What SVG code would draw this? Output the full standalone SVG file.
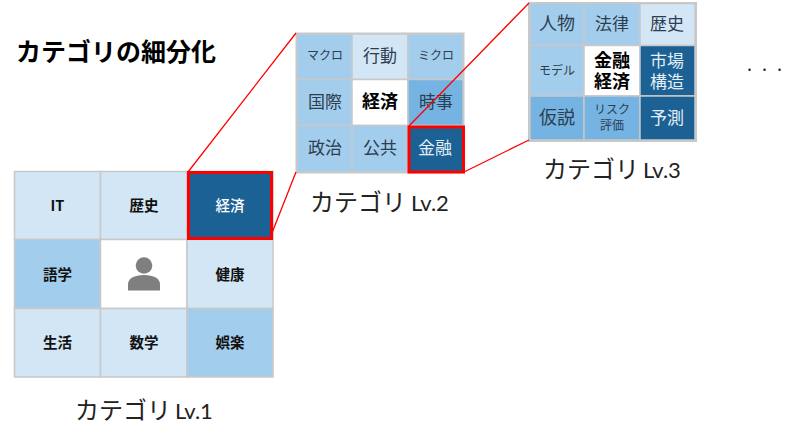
<svg xmlns="http://www.w3.org/2000/svg" width="800" height="441" viewBox="0 0 800 441">
<style>
text{font-family:"Noto Sans CJK JP","Noto Sans",sans-serif;text-anchor:middle;dominant-baseline:central}
.a{fill:#d2e6f5}.b{fill:#a3cdec}.c{fill:#74b3e2}.d{fill:#1c6194}.w{fill:#fff}
rect{stroke:#c8c8c8;stroke-width:1.5}
.f{fill:none;stroke:#c8c8c8;stroke-width:3}
.r{fill:none;stroke:#f00;stroke-width:3}
.l{stroke:#f00;stroke-width:1.3;fill:none}
.t1{font-size:14.500px;font-weight:700;fill:#111}.t1w{font-size:14.500px;font-weight:500;fill:#fff}
.t2{font-size:17px;fill:#2c3e50}.t3{font-size:18px;fill:#2c3e50}.t2s{font-size:12px;fill:#2c3e50}
.tw{font-size:17px;fill:#e4eef6}.tb{font-size:18px;font-weight:700;fill:#000}
.cap{font-size:24px;fill:#222}.lv{font-family:Lato,"Open Sans",sans-serif;font-size:22px;fill:#222;text-anchor:start}
</style>
<text x="16" y="50" style="text-anchor:start;font-size:25px;font-weight:700;fill:#000">カテゴリの細分化</text>
<g id="level1">
<g id="n-it"><rect class="a" x="14.500" y="171.500" width="86" height="68"/><text class="t1" x="57.500" y="204">IT</text></g>
<g id="n-history"><rect class="a" x="100.500" y="171.500" width="86.500" height="68"/><text class="t1" x="144" y="204">歴史</text></g>
<g id="n-keizai"><rect class="d" x="187" y="171.500" width="86" height="68"/><text class="t1w" x="230" y="204">経済</text></g>
<g id="n-lang"><rect class="b" x="14.500" y="239.500" width="86" height="69"/><text class="t1" x="57.500" y="273">語学</text></g>
<g id="n-user"><rect class="w" x="100.500" y="239.500" width="86.500" height="69"/><circle cx="144" cy="265.500" r="8.300" fill="#7f7f7f"/><path d="M128 290.500v-6c0-6 6-9.500 16-9.500s16 3.500 16 9.500v6z" fill="#7f7f7f"/></g>
<g id="n-health"><rect class="a" x="187" y="239.500" width="86" height="69"/><text class="t1" x="230" y="273">健康</text></g>
<g id="n-life"><rect class="a" x="14.500" y="308.500" width="86" height="68.500"/><text class="t1" x="57.500" y="341.500">生活</text></g>
<g id="n-math"><rect class="a" x="100.500" y="308.500" width="86.500" height="68.500"/><text class="t1" x="144" y="341.500">数学</text></g>
<g id="n-ent"><rect class="b" x="187" y="308.500" width="86" height="68.500"/><text class="t1" x="230" y="341.500">娯楽</text></g>
<rect class="r" x="188.500" y="172.500" width="83" height="66"/>
</g>
<text class="cap" x="123" y="408">カテゴリ</text><text class="lv" x="175" y="410">Lv.1</text>
<g id="level2">
<rect class="f" x="297" y="34" width="166" height="138"/>
<g id="m-macro"><rect class="b" x="297" y="34" width="55" height="45.500"/><text class="t2s" x="325" y="54">マクロ</text></g>
<g id="m-act"><rect class="a" x="352" y="34" width="56" height="45.500"/><text class="t2" x="380" y="54">行動</text></g>
<g id="m-micro"><rect class="b" x="408" y="34" width="55" height="45.500"/><text class="t2s" x="436" y="54">ミクロ</text></g>
<g id="m-intl"><rect class="b" x="297" y="79.500" width="55" height="46"/><text class="t2" x="325" y="100">国際</text></g>
<g id="m-keizai"><rect class="w" x="352" y="79.500" width="56" height="46"/><text class="tb" x="380" y="100">経済</text></g>
<g id="m-news"><rect class="c" x="408" y="79.500" width="55" height="46"/><text class="t2" x="436" y="100">時事</text></g>
<g id="m-pol"><rect class="b" x="297" y="125.500" width="55" height="46.500"/><text class="t2" x="325" y="146">政治</text></g>
<g id="m-pub"><rect class="b" x="352" y="125.500" width="56" height="46.500"/><text class="t2" x="380" y="146">公共</text></g>
<g id="m-fin"><rect class="d" x="408" y="125.500" width="55" height="46.500"/><text class="tw" x="435" y="146">金融</text></g>
<rect class="r" x="409" y="127" width="54.500" height="45"/>
</g>
<text class="cap" x="358" y="200">カテゴリ</text><text class="lv" x="411" y="202">Lv.2</text>
<g id="level3">
<rect class="f" x="529.500" y="3.500" width="166" height="137"/>
<g id="s-person"><rect class="b" x="530" y="3.500" width="54" height="42"/><text class="t3" x="557" y="22">人物</text></g>
<g id="s-law"><rect class="b" x="584" y="3.500" width="56" height="42"/><text class="t2" x="612" y="22">法律</text></g>
<g id="s-hist"><rect class="a" x="640" y="3.500" width="55" height="42"/><text class="t2" x="667" y="22">歴史</text></g>
<g id="s-model"><rect class="b" x="530" y="45.500" width="54" height="50.500"/><text class="t2s" x="557" y="69">モデル</text></g>
<g id="s-fin"><rect class="w" x="584" y="45.500" width="56" height="50.500"/><text class="tb" y="59"><tspan x="612">金融</tspan><tspan x="612" dy="21">経済</tspan></text></g>
<g id="s-market"><rect class="d" x="640" y="45.500" width="55" height="50.500"/><text class="tw" y="59"><tspan x="667">市場</tspan><tspan x="667" dy="21">構造</tspan></text></g>
<g id="s-hypo"><rect class="c" x="530" y="96" width="54" height="44"/><text class="t3" x="557" y="116">仮説</text></g>
<g id="s-risk"><rect class="c" x="584" y="96" width="56" height="44"/><text class="t2s" y="108"><tspan x="612">リスク</tspan><tspan x="612" dy="16">評価</tspan></text></g>
<g id="s-pred"><rect class="d" x="640" y="96" width="55" height="44"/><text class="tw" x="667" y="116">予測</text></g>
</g>
<text class="cap" x="591" y="167">カテゴリ</text><text class="lv" x="643" y="169">Lv.3</text>
<g id="connectors">
<path class="l" d="M188 172L296 33M270 238L296 172M409 126L529 3M464 172L529 140"/>
</g>
<text x="766" y="63" style="font-size:18px;fill:#222;letter-spacing:3px">. . .</text>
</svg>
